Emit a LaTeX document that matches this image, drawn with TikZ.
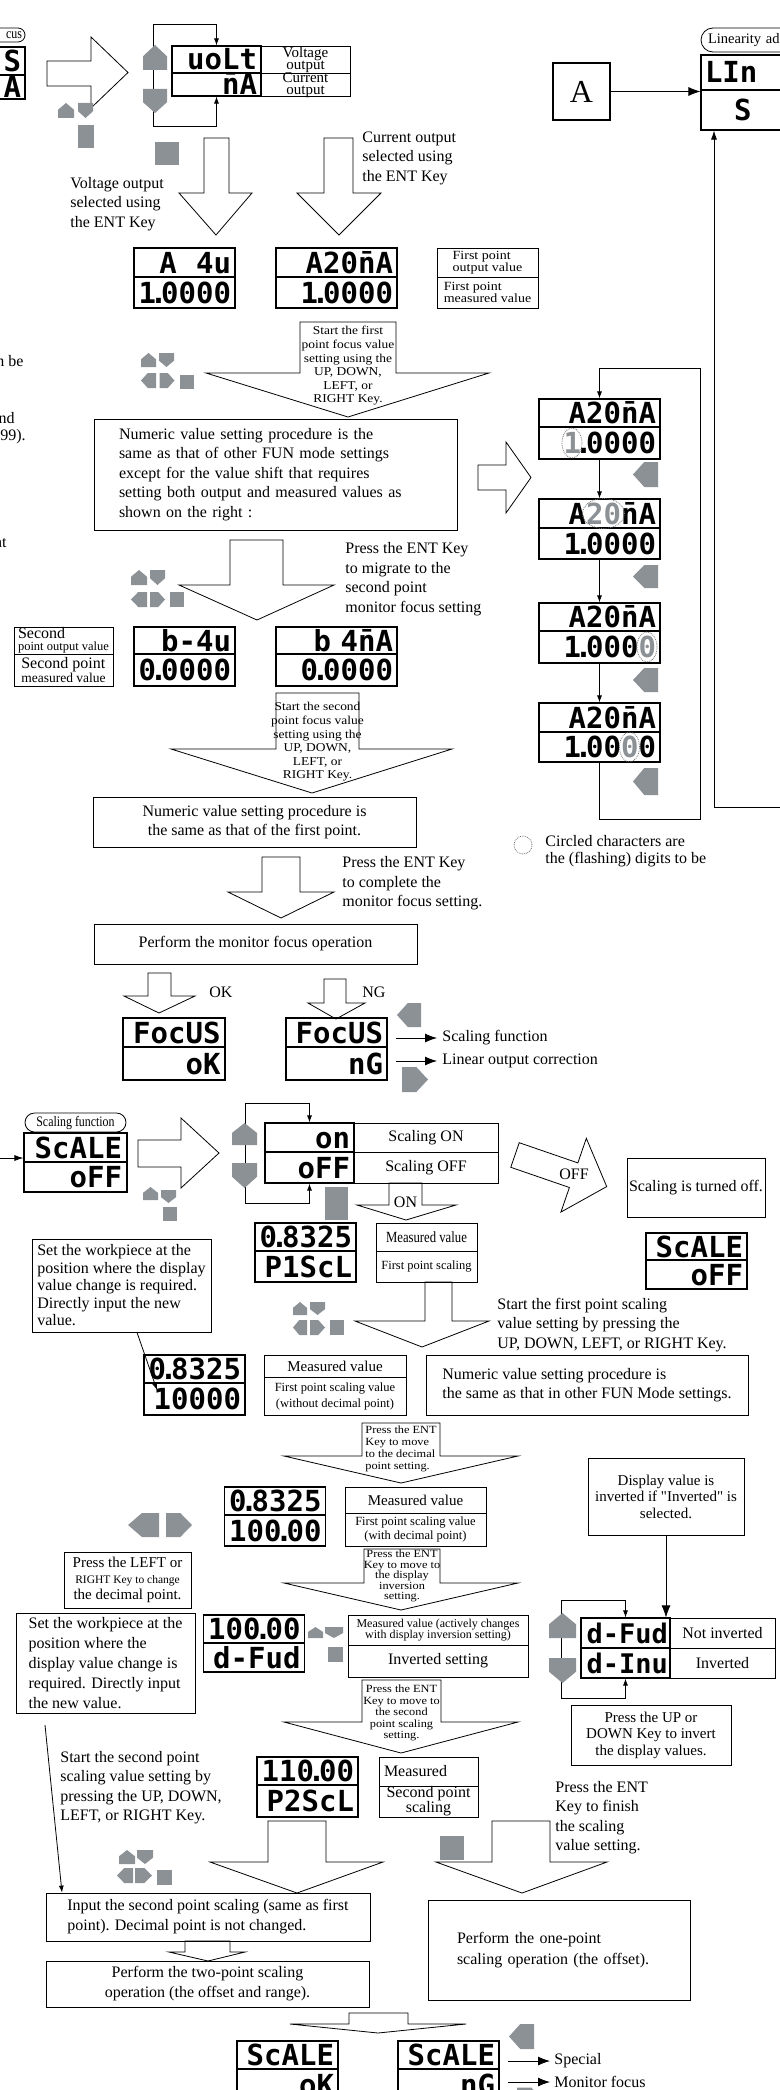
\documentclass[tikz,border=0pt]{standalone}
\usepackage{fontspec}
\setmainfont{Liberation Serif}
\newfontfamily\widefont{Liberation Serif}[FakeStretch=1.12]
\newfontfamily\narrowfont{Liberation Serif}[FakeStretch=0.82]
\newfontfamily\quotefont{Liberation Serif}[Ligatures=TeXOff]
\newfontfamily\lcdfont{DejaVu Sans Mono}
\usetikzlibrary{arrows.meta}
\definecolor{keygray}{RGB}{140,145,150}
\newcommand\lcd{\lcdfont\bfseries\fontsize{29}{29}\selectfont}
\newcommand\lcddot{\makebox[5pt]{.}}
\begin{document}
\begin{tikzpicture}[x=1pt, y=-1pt, line width=0.8pt,
  font=\fontsize{16}{19.5}\selectfont,
  every node/.style={inner sep=0pt},
  txt/.style={align=left, anchor=west},
  box/.style={draw, line width=0.8pt, align=center},
  lab/.style={draw, line width=0.8pt, align=center},
  row/.style={draw, line width=1.1pt, font=\lcd, minimum width=101pt,
    text width=93pt, minimum height=29pt, align=right, inner xsep=4pt,
    text height=21pt, text depth=0pt},
  wrow/.style={minimum width=121pt, text width=113pt},
  nrow/.style={minimum width=89pt, text width=81pt},
  trow/.style={minimum width=89pt, text width=85pt, inner xsep=2pt,
    font=\lcdfont\bfseries\fontsize{27}{27}\selectfont},
  barrow/.style={draw, fill=white, line width=0.8pt},
  lead/.style={-{Latex[length=7pt,width=5pt]}},
  lead2/.style={{Latex[length=7pt,width=5pt]}-{Latex[length=7pt,width=5pt]}},
  bigtip/.style={-{Latex[length=12pt,width=9pt]}},
  keyup/.pic={\fill[keygray] (-0.5,0.5) -- (-0.5,-0.05) -- (0,-0.5) -- (0.5,-0.05) -- (0.5,0.5) -- cycle;},
  keydown/.pic={\fill[keygray] (-0.5,-0.5) -- (0.5,-0.5) -- (0.5,0.05) -- (0,0.5) -- (-0.5,0.05) -- cycle;},
  keyleft/.pic={\fill[keygray] (0.5,-0.5) -- (0.5,0.5) -- (-0.05,0.5) -- (-0.5,0) -- (-0.05,-0.5) -- cycle;},
  keyright/.pic={\fill[keygray] (-0.5,-0.5) -- (0.05,-0.5) -- (0.5,0) -- (0.05,0.5) -- (-0.5,0.5) -- cycle;},
  keyent/.pic={\fill[keygray] (-0.5,-0.5) rectangle (0.5,0.5);}]
  \useasboundingbox (0,0) rectangle (779,2090);
  % block arrows (pixel coordinates, y downwards)
  \draw[barrow] (47,61) -- (91,61) -- (91,37) -- (128,72.5) -- (91,108) -- (91,86) -- (47,86) -- cycle;
  \draw[barrow] (204,138) -- (229,138) -- (229,193) -- (252,193) -- (216,235) -- (179,193) -- (204,193) -- cycle;
  \draw[barrow] (324,138) -- (353,138) -- (353,193) -- (381,193) -- (339,235) -- (297,193) -- (324,193) -- cycle;
  \draw[barrow] (300,322) -- (396,322) -- (396,373) -- (489,373) -- (348,417) -- (206,373) -- (300,373) -- cycle;
  \draw[barrow] (478,465) -- (506,465) -- (506,442) -- (531,477.5) -- (506,513) -- (506,490) -- (478,490) -- cycle;
  \draw[barrow] (230,540) -- (283,540) -- (283,585) -- (334,585) -- (257,620) -- (179,585) -- (230,585) -- cycle;
  \draw[barrow] (276,693) -- (359,693) -- (359,749) -- (452,749) -- (312,793) -- (171,749) -- (276,749) -- cycle;
  \draw[barrow] (262,857) -- (300,857) -- (300,892) -- (334,892) -- (281,918) -- (228,892) -- (262,892) -- cycle;
  \draw[barrow] (148,973) -- (171,973) -- (171,996) -- (195,996) -- (159,1013) -- (124,996) -- (148,996) -- cycle;
  \draw[barrow] (324,979) -- (346,979) -- (346,1003) -- (365,1003) -- (336,1019) -- (308,1003) -- (324,1003) -- cycle;
  \draw[barrow] (138,1140) -- (181,1140) -- (181,1118) -- (219,1153) -- (181,1188) -- (181,1167) -- (138,1167) -- cycle;
  \draw[barrow] (389,1183) -- (422,1183) -- (422,1205) -- (456,1205) -- (406,1220) -- (357,1205) -- (389,1205) -- cycle;
  \begin{scope}[shift={(515,1155)}, rotate=-19]
    \draw[barrow] (0,-13) -- (62,-13) -- (62,-39) -- (97,0) -- (62,39) -- (62,13) -- (0,13) -- cycle;
  \end{scope}
  \draw[barrow] (425,1282) -- (452,1282) -- (452,1321) -- (489,1321) -- (422,1347) -- (355,1321) -- (425,1321) -- cycle;
  \draw[barrow] (362,1423) -- (440,1423) -- (440,1456) -- (518,1456) -- (401,1483) -- (284,1456) -- (362,1456) -- cycle;
  \draw[barrow] (364,1549) -- (440,1549) -- (440,1583) -- (518,1583) -- (401,1610) -- (284,1583) -- (364,1583) -- cycle;
  \draw[barrow] (362,1680) -- (441,1680) -- (441,1722) -- (518,1722) -- (401,1753) -- (284,1722) -- (362,1722) -- cycle;
  \draw[barrow] (268,1821) -- (326,1821) -- (326,1862) -- (383,1862) -- (297,1893) -- (210,1862) -- (268,1862) -- cycle;
  \draw[barrow] (492,1821) -- (550,1821) -- (550,1862) -- (607,1862) -- (522,1893) -- (436,1862) -- (492,1862) -- cycle;
  \draw[barrow] (185,1941) -- (230,1941) -- (230,1952) -- (245,1952) -- (208,1961) -- (169,1952) -- (185,1952) -- cycle;
  \draw[barrow] (349,2013) -- (408,2013) -- (408,2024) -- (466,2024) -- (378,2033) -- (290,2024) -- (349,2024) -- cycle;

  % cut-off items at the edges
  \node[draw, rounded corners=7pt, minimum width=80pt, minimum height=14pt, text width=74pt,
    inner xsep=3pt, align=right, font=\narrowfont\fontsize{14.5}{14.5}\selectfont] (mfoc) at (-15,35) {cus};
  \node[row, minimum height=28pt] (mf1) at (-25.5,61) {S};
  \node[row, minimum height=24pt] (mf2) at (-25.5,87) {A};
  \node[anchor=east] (fr1) at (24,361) {n be};
  \node[anchor=east] (fr2) at (15,418) {nd};
  \node[anchor=east] (fr3) at (26,437) {99).};
  \node[anchor=east] (fr4) at (7,543) {nt};

  % output selection
  \node[row, nrow, minimum height=27pt] (vsel1) at (216.5,59.5) {uoLt};
  \node[row, nrow, minimum height=23pt] (vsel2) at (216.5,84.5) {\={n}A};
  \node[lab, minimum width=89pt, minimum height=27pt, font=\fontsize{15}{12}\selectfont] (vlab1) at (305.5,59.5) {Voltage\\output};
  \node[lab, minimum width=89pt, minimum height=23pt] (vlab2) at (305.5,84.5) {};
  \node[align=center, font=\fontsize{15}{12}\selectfont] (vlab2t) at (305.5,85) {Current\\output};
  \draw[lead2] (vsel1.north) |- (153,24) -- (153,126) -| (vsel2.south);
  \node[txt] (tcur) at (362,158) {Current output\\selected using\\the ENT Key};
  \node[txt] (tvolt) at (70,204) {Voltage output\\selected using\\the ENT Key};

  % linearity
  \node[draw, line width=2.5pt, minimum width=57pt, minimum height=57pt, font=\fontsize{32}{32}\selectfont] (abox) at (581.5,91.5) {A};
  \node[draw, rounded corners=12pt, minimum width=160pt, minimum height=24pt, text width=146pt,
    inner xsep=7pt, align=left, font=\fontsize{14.5}{14.5}\selectfont] (linlab) at (781,40) {Linearity ad};
  \node[row, minimum width=160pt, text width=152pt, align=left, minimum height=35pt] (lint) at (781,72.5) {LIn};
  \node[row, minimum width=160pt, text width=152pt, align=left, minimum height=40pt] (linb) at (781,110) {~~~S};
  \draw[bigtip] (abox.east) -- (linb.west |- abox.east);
  \draw[-{Latex[length=9pt,width=6pt]}] (790,807) -- (714,807) -- (linb.south -| 714,0);

  % first point
  \node[row, minimum height=29pt] (va1) at (184.5,262.5) {A~~4u};
  \node[row, minimum height=31pt] (va2) at (184.5,292.5) {1\lcddot0000};
  \node[row, wrow, minimum height=29pt] (vb1) at (336.5,262.5) {A20\={n}A};
  \node[row, wrow, minimum height=31pt] (vb2) at (336.5,292.5) {1\lcddot0000};
  \node[lab, minimum width=101pt, minimum height=29pt, align=left, font=\widefont\fontsize{12.5}{12}\selectfont] (l1a) at (487.5,262.5) {First point\\output value};
  \node[lab, minimum width=101pt, minimum height=31pt, align=left, font=\widefont\fontsize{12.5}{12}\selectfont] (l1b) at (487.5,292.5) {First point\\measured value};
  \node[align=center, font=\widefont\fontsize{12}{13.6}\selectfont] (tda3) at (348,366) {Start the first\\point focus value\\setting using the\\UP, DOWN,\\LEFT, or\\RIGHT Key.};
  \node[box, minimum width=363pt, minimum height=111pt, text width=313pt, inner xsep=25pt, align=left] (b1) at (275.5,474.5)
    {Numeric value setting procedure is the\\same as that of other FUN mode settings\\except for the value shift that requires\\setting both output and measured values as\\shown on the right :};

  % digit shift column
  \node[row, wrow, minimum height=28pt] (rc1a) at (599.5,413) {A20\={n}A};
  \node[row, wrow, minimum height=32pt] (rc1b) at (599.5,443) {{\color{keygray}1}\lcddot0000};
  \node[row, wrow, minimum height=29pt] (rc2a) at (599.5,513.5) {A{\color{keygray}20}\={n}A};
  \node[row, wrow, minimum height=31pt] (rc2b) at (599.5,543.5) {1\lcddot0000};
  \node[row, wrow, minimum height=28pt] (rc3a) at (599.5,617) {A20\={n}A};
  \node[row, wrow, minimum height=32pt] (rc3b) at (599.5,647) {1\lcddot000{\color{keygray}0}};
  \node[row, wrow, minimum height=29pt] (rc4a) at (599.5,717.5) {A20\={n}A};
  \node[row, wrow, minimum height=30pt] (rc4b) at (599.5,747) {1\lcddot00{\color{keygray}0}0};
  \draw[lead] (rc4b.south) -- (599.5,819) -| (700,368) -| (rc1a.north);
  \draw[lead] (rc1b.south) -- (rc2a.north);
  \draw[lead] (rc2b.south) -- (rc3a.north);
  \draw[lead] (rc3b.south) -- (rc4a.north);
  \draw[densely dotted, black!55] (572,443) ellipse [x radius=10pt, y radius=15pt];
  \draw[densely dotted, black!55] (603.5,513.5) ellipse [x radius=21pt, y radius=15pt];
  \draw[densely dotted, black!55] (647,647) ellipse [x radius=10pt, y radius=15pt];
  \draw[densely dotted, black!55] (629.5,747) ellipse [x radius=10pt, y radius=15pt];
  \draw[densely dotted, black!55] (523,845) circle [radius=9pt];
  \node[txt, font=\fontsize{16}{17}\selectfont] (tleg) at (545,851.5) {Circled characters are\\the (flashing) digits to be};

  % second point
  \node[txt] (tmig) at (345,579) {Press the ENT Key\\to migrate to the\\second point\\monitor focus setting};
  \node[lab, minimum width=99pt, minimum height=27pt, align=left, font=\fontsize{12.5}{12}\selectfont] (l2a) at (63.5,640.5) {{\fontsize{16}{12}\selectfont Second}\\point output value};
  \node[lab, minimum width=99pt, minimum height=32pt, align=left, font=\fontsize{13.5}{12}\selectfont] (l2b) at (63.5,670) {{\fontsize{16}{12}\selectfont Second point}\\measured value};
  \node[row, minimum height=27pt] (sb1) at (184.5,640.5) {b-4u};
  \node[row, minimum height=32pt] (sb2) at (184.5,670) {0\lcddot0000};
  \node[row, wrow, minimum height=27pt] (sc1) at (336.5,640.5) {b~4\={n}A};
  \node[row, wrow, minimum height=32pt] (sc2) at (336.5,670) {0\lcddot0000};
  \node[align=center, font=\widefont\fontsize{12}{13.6}\selectfont] (tda5) at (317.5,742) {Start the second\\point focus value\\setting using the\\UP, DOWN,\\LEFT, or\\RIGHT Key.};
  \node[box, minimum width=323pt, minimum height=50pt] (b2) at (254.5,822) {Numeric value setting procedure is\\the same as that of the first point.};
  \node[txt] (tcomp) at (342,883.5) {Press the ENT Key\\to complete the\\monitor focus setting.};
  \node[box, minimum width=323pt, minimum height=40pt] (b3) at (255.5,944) {Perform the monitor focus operation};
  \node[txt] (tok) at (209,992) {OK};
  \node[txt] (tng) at (362,992) {NG};
  \node[row, minimum width=102pt, minimum height=29pt] (fk1) at (174,1032.5) {FocUS};
  \node[row, minimum width=102pt, minimum height=33pt] (fk2) at (174,1063.5) {oK};
  \node[row, minimum height=29pt] (fn1) at (336.5,1032.5) {FocUS};
  \node[row, minimum height=33pt] (fn2) at (336.5,1063.5) {nG};
  \node[txt] (scf) at (442,1038) {Scaling function};
  \node[txt] (loc) at (442,1061) {Linear output correction};
  \draw[bigtip, shorten >=5pt] (396,1038) -- (scf.west);
  \draw[bigtip, shorten >=5pt] (396,1061) -- (loc.west);

  % scaling function
  \node[draw, rounded corners=9.5pt, minimum width=101pt, minimum height=19pt, font=\narrowfont\fontsize{14.5}{14.5}\selectfont] (scfun) at (75.5,1122.5) {Scaling function};
  \node[row, minimum width=103pt, minimum height=29pt] (sf1) at (75.5,1147.5) {ScALE};
  \node[row, minimum width=103pt, minimum height=30pt] (sf2) at (75.5,1177) {oFF};
  \draw[-{Latex[length=9pt,width=6pt]}] (-10,1158) -- (sf1.west |- 0,1158);
  \node[row, nrow, minimum height=29pt] (onl) at (309.5,1137.5) {on};
  \node[row, nrow, minimum height=31pt] (offl) at (309.5,1167.5) {oFF};
  \node[lab, minimum width=144pt, minimum height=29pt] (onlab) at (426,1137.5) {Scaling ON};
  \node[lab, minimum width=144pt, minimum height=31pt] (offlab) at (426,1167.5) {Scaling OFF};
  \draw[lead2] (onl.north) |- (245,1103) -- (245,1203) -| (offl.south);
  \node (ton) at (405.5,1202) {ON};
  \node (toff) at (574,1174) {OFF};
  \node[box, minimum width=138pt, minimum height=59pt] (tso) at (696,1187.5) {Scaling is turned off.};
  \node[row, minimum height=27pt] (so1) at (696.5,1246.5) {ScALE};
  \node[row, minimum height=29pt] (so2) at (696.5,1274.5) {oFF};
  \node[row, minimum height=28pt] (p11) at (305.5,1237) {0\lcddot8325};
  \node[row, minimum height=31pt] (p12) at (305.5,1266.5) {P1ScL};
  \node[lab, minimum width=101pt, minimum height=28pt, font=\narrowfont\fontsize{15.5}{15.5}\selectfont] (l3a) at (426.5,1237) {Measured value};
  \node[lab, minimum width=101pt, minimum height=31pt, font=\fontsize{12.5}{12.5}\selectfont] (l3b) at (426.5,1266.5) {First point scaling};
  \node[box, minimum width=179pt, minimum height=93pt, align=left, font=\fontsize{16}{17.5}\selectfont] (b4) at (121.5,1285.5)
    {Set the workpiece at the\\position where the display\\value change is required.\\Directly input the new\\value.};
  \node[txt] (ts1) at (497,1325) {Start the first point scaling\\value setting by pressing the\\UP, DOWN, LEFT, or RIGHT Key.};
  \node[row, minimum height=28pt] (q11) at (194.5,1369) {0\lcddot8325};
  \node[row, minimum height=32pt] (q12) at (194.5,1399) {10000};
  \draw[lead] ([xshift=15.5pt]b4.south) -- (157,1390);
  \node[lab, minimum width=142pt, minimum height=22pt, font=\fontsize{15}{15}\selectfont] (l4a) at (335,1366) {Measured value};
  \node[lab, minimum width=142pt, minimum height=38pt, font=\fontsize{12.5}{16}\selectfont] (l4b) at (335,1396) {First point scaling value\\(without decimal point)};
  \node[box, minimum width=322pt, minimum height=60pt, align=left] (b5) at (587,1385) {Numeric value setting procedure is\\the same as that in other FUN Mode settings.};

  % decimal point and inversion
  \node[align=left, font=\widefont\fontsize{11}{12}\selectfont] (tda8) at (401,1449) {Press the ENT\\Key to move\\to the decimal\\point setting.};
  \node[row, minimum height=28pt] (q21) at (275,1501) {0\lcddot8325};
  \node[row, minimum height=31pt] (q22) at (275,1530.5) {100\lcddot00};
  \node[lab, minimum width=141pt, minimum height=26pt, font=\fontsize{15}{15}\selectfont] (l5a) at (415.5,1500) {Measured value};
  \node[lab, minimum width=141pt, minimum height=33pt, font=\fontsize{12.5}{14}\selectfont] (l5b) at (415.5,1529.5) {First point scaling value\\(with decimal point)};
  \node[box, minimum width=156pt, minimum height=77pt, font=\fontsize{15}{16.5}\selectfont] (b6) at (666,1496.5) {Display value is\\inverted if {\quotefont"}Inverted{\quotefont"} is\\selected.};
  \node[box, minimum width=127pt, minimum height=56pt, font=\fontsize{15}{16}\selectfont] (b7) at (127.5,1580) {Press the LEFT or\\{\fontsize{11.5}{16}\selectfont RIGHT Key to change}\\the decimal point.};
  \node[align=center, font=\widefont\fontsize{11}{10.5}\selectfont] (tda9) at (402,1576) {Press the ENT\\Key to move to\\the display\\inversion\\setting.};
  \node[box, minimum width=179pt, minimum height=100pt, align=left, font=\fontsize{16}{20}\selectfont] (b8) at (105.5,1663)
    {Set the workpiece at the\\position where the\\display value change is\\required. Directly input\\the new value.};
  \node[row, minimum height=28pt] (q31) at (254,1629) {100\lcddot00};
  \node[row, minimum height=29pt] (q32) at (254,1657.5) {\mbox{d-Fud}};
  \node[lab, minimum width=180pt, minimum height=30pt, font=\fontsize{12}{11}\selectfont] (l6a) at (438,1630) {Measured value (actively changes\\with display inversion setting)};
  \node[lab, minimum width=180pt, minimum height=32pt] (l6b) at (438,1661) {Inverted setting};
  \node[row, trow, minimum height=30pt] (dfl1) at (625.5,1633) {\mbox{d-Fud}};
  \node[row, trow, minimum height=30pt] (dfl2) at (625.5,1663) {\mbox{d-Inu}};
  \node[lab, minimum width=105pt, minimum height=30pt] (dflab1) at (722.5,1633) {Not inverted};
  \node[lab, minimum width=105pt, minimum height=30pt] (dflab2) at (722.5,1663) {Inverted};
  \draw[lead2] (dfl1.north) |- (561,1600) -- (561,1698) -| (dfl2.south);
  \draw[bigtip] (b6.south) -- (b6.south |- dfl1.north);
  \node[box, minimum width=160pt, minimum height=60pt, font=\fontsize{15}{16.5}\selectfont] (b9) at (651,1735) {Press the UP or\\DOWN Key to invert\\the display values.};

  % second point scaling
  \node[align=center, font=\widefont\fontsize{11}{11.5}\selectfont] (tda10) at (401.5,1713) {Press the ENT\\Key to move to\\the second\\point scaling\\setting.};
  \node[txt] (ts2) at (60,1787.5) {Start the second point\\scaling value setting by\\pressing the UP, DOWN,\\LEFT, or RIGHT Key.};
  \node[row, minimum height=28pt] (q41) at (307.5,1771) {110\lcddot00};
  \node[row, minimum height=32pt] (q42) at (307.5,1801) {P2ScL};
  \node[lab, minimum width=99pt, minimum height=29pt, text width=89pt, inner xsep=5pt, align=left] (l7a) at (428.5,1771.5) {Measured};
  \node[lab, minimum width=99pt, minimum height=31pt, font=\fontsize{16}{15}\selectfont] (l7b) at (428.5,1801.5) {Second point\\scaling};
  \node[txt] (tfin) at (555,1817.5) {Press the ENT\\Key to finish\\the scaling\\value setting.};
  \node[box, minimum width=324pt, minimum height=48pt, align=left, font=\fontsize{16}{20}\selectfont] (b10) at (208,1917) {Input the second point scaling (same as first\\point). Decimal point is not changed.};
  \draw[lead] (45,1725) -- (b10.north -| 62,0);
  \node[box, minimum width=323pt, minimum height=46pt, font=\fontsize{16}{20}\selectfont] (b11) at (207.5,1984) {Perform the two-point scaling\\operation (the offset and range).};
  \node[box, minimum width=262pt, minimum height=100pt, text width=204pt, inner xsep=29pt, align=left, font=\fontsize{16}{21}\selectfont] (b12) at (559,1950) {Perform the one-point\\scaling operation (the offset).};
  \node[row, minimum height=28pt] (ok1) at (287.5,2055) {ScALE};
  \node[row, minimum height=31pt] (ok2) at (287.5,2084.5) {oK};
  \node[row, minimum width=99pt, minimum height=28pt] (ng1) at (448.5,2055) {ScALE};
  \node[row, minimum width=99pt, minimum height=31pt] (ng2) at (448.5,2084.5) {nG};
  \node[txt] (spc) at (554,2061) {Special};
  \node[txt] (mfc) at (554,2082) {Monitor focus};
  \draw[bigtip, shorten >=4pt] (508,2061) -- (spc.west);
  \draw[bigtip, shorten >=4pt] (508,2082) -- (mfc.west);

  % gray keys
  \pic[xscale=16, yscale=15] at (66,110.5) {keyup};
  \pic[xscale=15, yscale=15] at (85.5,110.5) {keydown};
  \pic[xscale=16, yscale=23] at (86,136.5) {keyent};
  \pic[xscale=24, yscale=25] at (155,57.5) {keyup};
  \pic[xscale=24, yscale=24] at (155,101) {keydown};
  \pic[xscale=24, yscale=23] at (167,153.5) {keyent};
  \pic[xscale=15, yscale=14] at (148.5,360) {keyup};
  \pic[xscale=15, yscale=14] at (166.5,360) {keydown};
  \pic[xscale=15, yscale=15] at (148.5,380.5) {keyleft};
  \pic[xscale=15, yscale=15] at (167,380.5) {keyright};
  \pic[xscale=14, yscale=14] at (187,381.5) {keyent};
  \pic[xscale=25, yscale=25] at (645.5,474.5) {keyleft};
  \pic[xscale=25, yscale=23] at (645.5,576.5) {keyleft};
  \pic[xscale=25, yscale=24] at (645.5,680) {keyleft};
  \pic[xscale=25, yscale=27] at (645.5,781.5) {keyleft};
  \pic[xscale=16, yscale=15] at (139,577.5) {keyup};
  \pic[xscale=15, yscale=15] at (157.5,577.5) {keydown};
  \pic[xscale=16, yscale=15] at (139,599.5) {keyleft};
  \pic[xscale=15, yscale=15] at (157.5,599.5) {keyright};
  \pic[xscale=14, yscale=15] at (177,599.5) {keyent};
  \pic[xscale=24, yscale=24] at (409,1015) {keyleft};
  \pic[xscale=26, yscale=25] at (415,1079.5) {keyright};
  \pic[xscale=15, yscale=13] at (150.5,1193.5) {keyup};
  \pic[xscale=15, yscale=13] at (168.5,1196.5) {keydown};
  \pic[xscale=14, yscale=14] at (170,1214) {keyent};
  \pic[xscale=25, yscale=22] at (244.5,1134) {keyup};
  \pic[xscale=25, yscale=25] at (244.5,1175.5) {keydown};
  \pic[xscale=23, yscale=33] at (336.5,1203.5) {keyent};
  \pic[xscale=14, yscale=13] at (300,1308.5) {keyup};
  \pic[xscale=15, yscale=13] at (317.5,1308.5) {keydown};
  \pic[xscale=14, yscale=15] at (300,1327.5) {keyleft};
  \pic[xscale=15, yscale=15] at (317.5,1327.5) {keyright};
  \pic[xscale=14, yscale=15] at (337,1327.5) {keyent};
  \pic[xscale=31, yscale=24] at (143.5,1525) {keyleft};
  \pic[xscale=26, yscale=24] at (179,1525) {keyright};
  \pic[xscale=15, yscale=11] at (315.5,1632.5) {keyup};
  \pic[xscale=18, yscale=11] at (334,1632.5) {keydown};
  \pic[xscale=15, yscale=15] at (335.5,1654.5) {keyent};
  \pic[xscale=27, yscale=25] at (562.5,1625.5) {keyup};
  \pic[xscale=27, yscale=25] at (562.5,1670.5) {keydown};
  \pic[xscale=16, yscale=14] at (127,1857) {keyup};
  \pic[xscale=16, yscale=14] at (145,1857) {keydown};
  \pic[xscale=16, yscale=15] at (125,1875.5) {keyleft};
  \pic[xscale=17, yscale=15] at (143.5,1875.5) {keyright};
  \pic[xscale=15, yscale=15] at (164.5,1877.5) {keyent};
  \pic[xscale=24, yscale=24] at (452,1848) {keyent};
  \pic[xscale=25, yscale=25] at (521.5,2036.5) {keyleft};
  \pic[xscale=26, yscale=25] at (530,2100) {keyright};
\end{tikzpicture}
\end{document}
